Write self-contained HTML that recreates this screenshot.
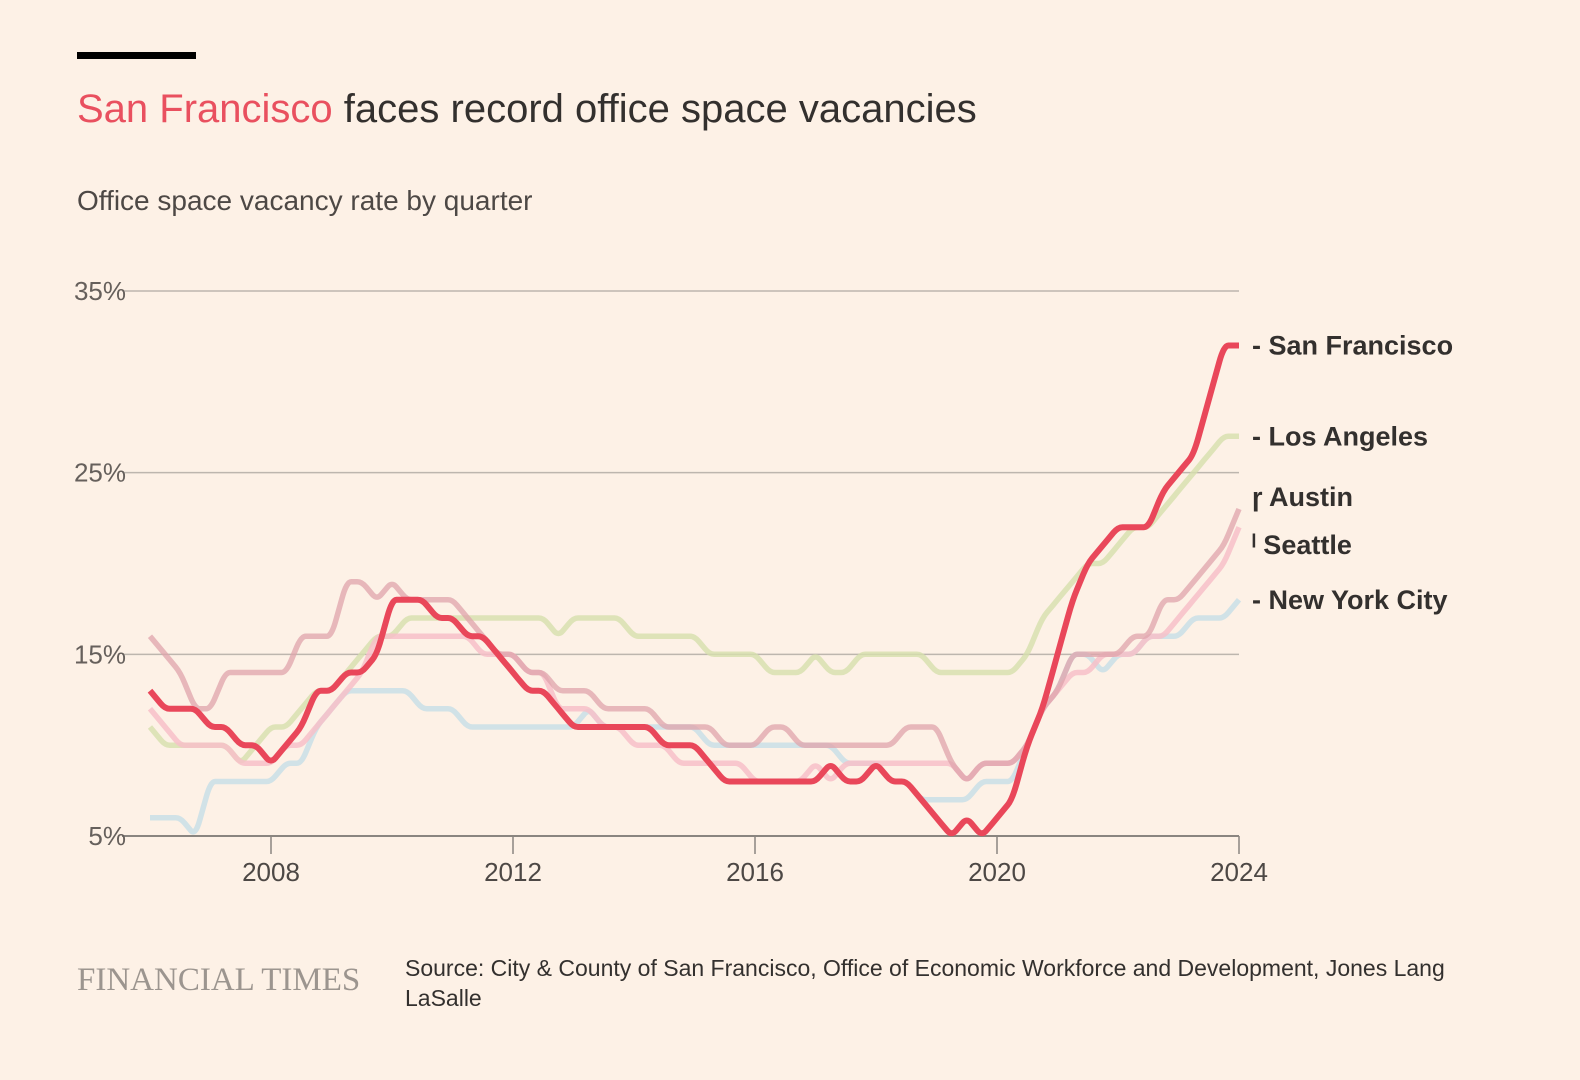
<!DOCTYPE html>
<html><head><meta charset="utf-8"><style>
body{margin:0;background:#fdf1e6;}
svg{display:block;font-family:"Liberation Sans",sans-serif;}
</style></head><body>
<svg width="1580" height="1080" viewBox="0 0 1580 1080">
<rect width="1580" height="1080" fill="#fdf1e6"/>
<rect x="77" y="52" width="119" height="7" fill="#000"/>
<text x="77" y="122" font-size="40" fill="#33302e"><tspan fill="#e9505f">San Francisco</tspan> faces record office space vacancies</text>
<text x="77" y="210" font-size="28" fill="#4d4845">Office space vacancy rate by quarter</text>
<g id="grid"></g>
<g id="series"></g>
<g id="labels"></g>
<text x="77" y="990" font-size="33" font-family="Liberation Serif, serif" fill="#9c958f">FINANCIAL TIMES</text>
<text x="405" y="976" font-size="23" fill="#33302e">Source: City &amp; County of San Francisco, Office of Economic Workforce and Development, Jones Lang</text>
<text x="405" y="1006" font-size="23" fill="#33302e">LaSalle</text>
</svg>
<script>
const yTicks = [5, 15, 25, 35];
const yTickLabels = ["5%", "15%", "25%", "35%"];
const xTicks = [2008, 2012, 2016, 2020, 2024];
const startYear = 2006;
const sanFrancisco = [13,12,12,12,11,11,10,10,9,10,11,13,13,14,14,15,18,18,18,17,17,16,16,15,14,13,13,12,11,11,11,11,11,11,10,10,10,9,8,8,8,8,8,8,8,9,8,8,9,8,8,7,6,5,6,5,6,7,10,12,15,18,20,21,22,22,22,24,25,26,29,32,32];
const losAngeles = [11,10,10,10,10,10,9,10,11,11,12,13,13,14,15,16,16,17,17,17,17,17,17,17,17,17,17,16,17,17,17,17,16,16,16,16,16,15,15,15,15,14,14,14,15,14,14,15,15,15,15,15,14,14,14,14,14,14,15,17,18,19,20,20,21,22,22,23,24,25,26,27,27];
const austin = [16,15,14,12,12,14,14,14,14,14,16,16,16,19,19,18,19,18,18,18,18,17,16,15,15,14,14,13,13,13,12,12,12,12,11,11,11,11,10,10,10,11,11,10,10,10,10,10,10,10,11,11,11,9,8,9,9,9,10,12,13,15,15,15,15,16,16,18,18,19,20,21,23];
const seattle = [12,11,10,10,10,10,9,9,9,10,10,11,12,13,14,16,16,16,16,16,16,16,15,15,15,14,14,12,12,12,11,11,10,10,10,9,9,9,9,9,8,8,8,8,9,8,9,9,9,9,9,9,9,9,8,9,9,9,10,12,13,14,14,15,15,15,16,16,17,18,19,20,22];
const newYork = [6,6,6,5,8,8,8,8,8,9,9,11,12,13,13,13,13,13,12,12,12,11,11,11,11,11,11,11,11,12,11,11,11,11,11,11,11,10,10,10,10,10,10,10,10,10,9,9,9,8,8,7,7,7,7,8,8,8,10,12,13,15,15,14,15,15,16,16,16,17,17,17,18];
const seriesNames = ["New York City","Los Angeles","Seattle","Austin","San Francisco"];

const NS="http://www.w3.org/2000/svg";
const X0=150,X1=1239,Y0=836,Y1=291;
function xScale(year){return X0+(year-2006)/(2024-2006)*(X1-X0);}
function yScale(v){return Y0-(v-5)/(35-5)*(Y0-Y1);}
function mk(tag,attrs,parent){const e=document.createElementNS(NS,tag);for(const k in attrs)e.setAttribute(k,attrs[k]);parent.appendChild(e);return e;}
function smoothPath(pts){
  const f=0.3;
  let d='M'+pts[0][0].toFixed(1)+','+pts[0][1].toFixed(1);
  for(let i=1;i<pts.length-1;i++){
    const a=pts[i-1],b=pts[i],c=pts[i+1];
    const px=b[0]+(a[0]-b[0])*f,py=b[1]+(a[1]-b[1])*f;
    const nx=b[0]+(c[0]-b[0])*f,ny=b[1]+(c[1]-b[1])*f;
    d+=' L'+px.toFixed(1)+','+py.toFixed(1)+' Q'+b[0].toFixed(1)+','+b[1].toFixed(1)+' '+nx.toFixed(1)+','+ny.toFixed(1);
  }
  const l=pts[pts.length-1];
  d+=' L'+l[0].toFixed(1)+','+l[1].toFixed(1);
  return d;
}

const grid=document.getElementById('grid');
yTicks.forEach((t,i)=>{
  const l=mk('line',{x1:122,x2:X1,y1:yScale(t),y2:yScale(t),stroke:i===0?'#8a8580':'#bdb6ae','stroke-width':i===0?2:1.5},grid);
  
  
  const tx=mk('text',{x:126,y:yScale(t)+9,'text-anchor':'end','font-size':26,fill:'#66605c'},grid);
  tx.textContent=yTickLabels[i];
  
  
});
xTicks.forEach(t=>{
  const x=xScale(t);
  const l=mk('line',{x1:x,x2:x,y1:Y0,y2:Y0+18,stroke:'#8a8580','stroke-width':1.5},grid);
  
  
  const tx=mk('text',{x:x,y:Y0+45,'text-anchor':'middle','font-size':26,fill:'#4d4845'},grid);
  tx.textContent=String(t);
  
  
});

const seriesData=[newYork,losAngeles,seattle,austin,sanFrancisco];
const colors=['#c9dfe6','#d6e0ad','#f7c0c8','#dfa3ab','#e9475a'];
const opac=[0.85,0.8,0.85,0.75,1];
const sg=document.getElementById('series');
seriesData.forEach((arr,si)=>{
  const pts=arr.map((v,i)=>[xScale(startYear+i/4),yScale(v)]);
  const p=mk('path',{d:smoothPath(pts),fill:'none',stroke:colors[si],'stroke-width':si===4?6:5.5,'stroke-linejoin':'round','stroke-linecap':'butt',opacity:opac[si]},sg);
  
  
});

const lg=document.getElementById('labels');
const labelY=[yScale(newYork[72]),yScale(losAngeles[72]),yScale(seattle[72])+18,yScale(austin[72])-12,yScale(sanFrancisco[72])];
seriesNames.forEach((n,i)=>{
  const y=labelY[i];
  const t=mk('text',{x:1252,y:y+9,'font-size':27,'font-weight':'bold',fill:'#33302e'},lg);
  t.textContent=(n==='Austin'?'ɼ':(n==='Seattle'?'ˡ':'-'))+' '+n;
  
  
});
</script>
</body></html>
